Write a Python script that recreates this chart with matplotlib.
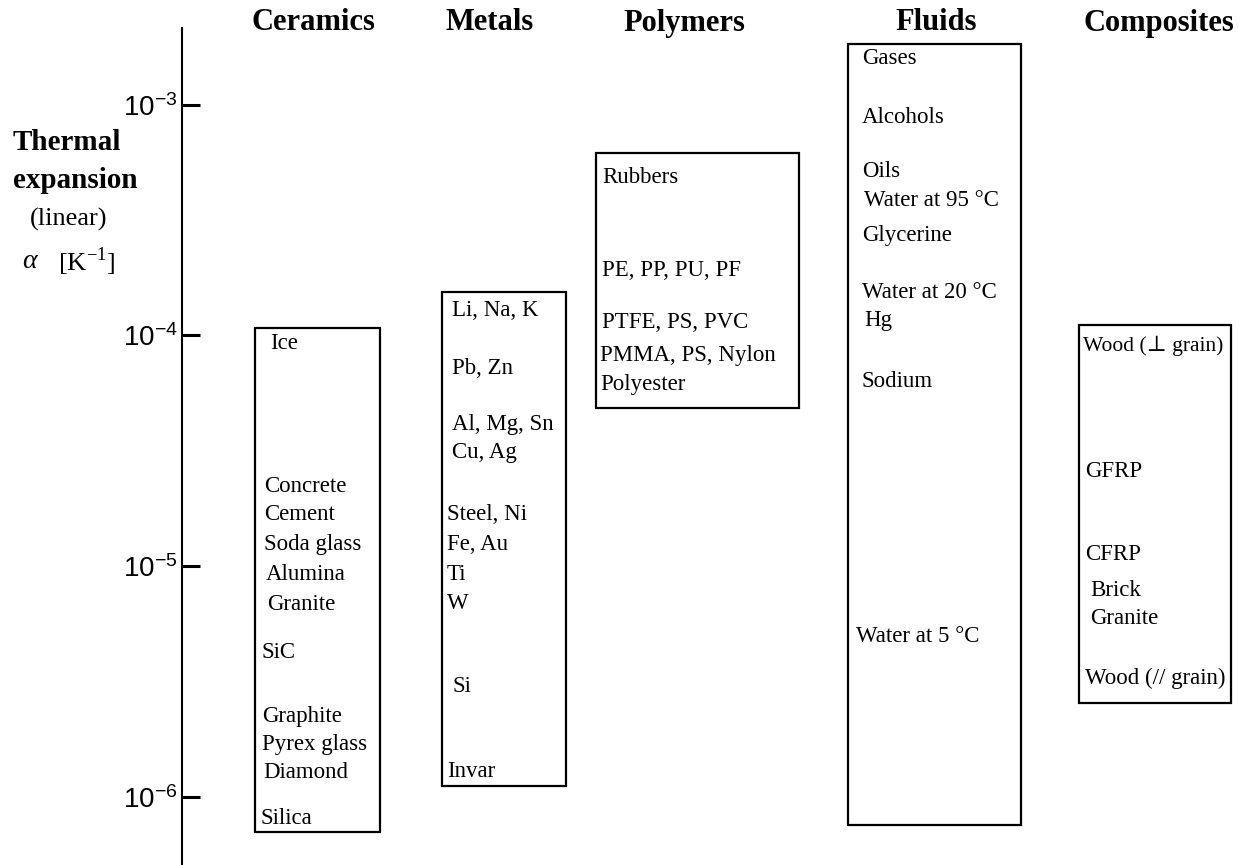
import matplotlib
matplotlib.use("Agg")
import matplotlib.pyplot as plt
from matplotlib.ticker import NullLocator

# materiaalgroepen en bereik van de lineaire uitzettingscoëfficiënt [1/K]
groepen = ["Ceramics", "Metals", "Polymers", "Fluids", "Composites"]
bereik_laag = [7.0e-7, 1.11e-6, 4.84e-5, 7.55e-7, 2.55e-6]
bereik_hoog = [1.08e-4, 1.54e-4, 6.18e-4, 1.83e-3, 1.11e-4]

ceramics_namen = ["Ice", "Concrete", "Cement", "Soda glass", "Alumina", "Granite",
                  "SiC", "Graphite", "Pyrex glass", "Diamond", "Silica"]
ceramics_alpha = [9.2e-5, 2.22e-5, 1.665e-5, 1.234e-5, 9.15e-6, 6.78e-6,
                  4.24e-6, 2.22e-6, 1.677e-6, 1.268e-6, 8.01e-7]

metals_namen = ["Li, Na, K", "Pb, Zn", "Al, Mg, Sn", "Cu, Ag", "Steel, Ni",
                "Fe, Au", "Ti", "W", "Si", "Invar"]
metals_alpha = [1.288e-4, 7.22e-5, 4.09e-5, 3.12e-5, 1.665e-5,
                1.234e-5, 9.15e-6, 6.85e-6, 3.02e-6, 1.281e-6]

polymers_namen = ["Rubbers", "PE, PP, PU, PF", "PTFE, PS, PVC",
                  "PMMA, PS, Nylon", "Polyester"]
polymers_alpha = [4.86e-4, 1.92e-4, 1.132e-4, 8.22e-5, 6.10e-5]

fluids_namen = ["Gases", "Alcohols", "Oils", "Water at 95 °C", "Glycerine",
                "Water at 20 °C", "Hg", "Sodium", "Water at 5 °C"]
fluids_alpha = [1.594e-3, 8.76e-4, 5.11e-4, 3.83e-4, 2.70e-4,
                1.542e-4, 1.166e-4, 6.34e-5, 4.93e-6]

composites_namen = ["Wood (⊥ grain)", "GFRP", "CFRP", "Brick", "Granite",
                    "Wood (// grain)"]
composites_alpha = [9.0e-5, 2.58e-5, 1.117e-5, 7.80e-6, 5.90e-6, 3.27e-6]

decaden = [1e-6, 1e-5, 1e-4, 1e-3]

# layout in pixels (x-as loopt in pixels)
W, H = 1249, 865
box_links = [255, 442, 596, 848, 1079]
box_rechts = [380, 566, 799, 1021, 1231]
kop_x = [313, 490, 684, 936, 1159]
tekst_x = [
    [270, 264, 264, 264, 266, 267, 262, 262, 262, 263, 261],
    [452, 452, 452, 452, 447, 447, 447, 447, 453, 447],
    [602, 602, 602, 600, 600],
    [862, 862, 862, 864, 862, 862, 864, 862, 856],
    [1083, 1085, 1085, 1090, 1090, 1085],
]
namen = [ceramics_namen, metals_namen, polymers_namen, fluids_namen, composites_namen]
alphas = [ceramics_alpha, metals_alpha, polymers_alpha, fluids_alpha, composites_alpha]

serif = ["Liberation Serif", "DejaVu Serif"]

fig = plt.figure(figsize=(W / 100, H / 100), dpi=100)
ax = fig.add_axes([0, 0, 1, 1])
ax.set_xlim(0, W)
ax.set_yscale("log")
ax.set_ylim(10 ** -6.296, 10 ** -2.546)

for s in ["top", "right", "bottom"]:
    ax.spines[s].set_visible(False)
ax.spines["left"].set_position(("data", 182))
ax.spines["left"].set_linewidth(1.5)
ax.spines["left"].set_bounds(10 ** -6.296, 2.15e-3)
ax.set_xticks([])
ax.set_yticks(decaden)
ax.yaxis.set_minor_locator(NullLocator())
ax.tick_params(axis="y", direction="in", length=13, width=2.2, pad=3,
               labelsize=20, labelfontfamily="Liberation Sans")

# boxen
breedte = [r - l for l, r in zip(box_links, box_rechts)]
hoogte = [h - l for l, h in zip(bereik_laag, bereik_hoog)]
ax.bar(box_links, hoogte, bottom=bereik_laag, width=breedte, align="edge",
       fill=False, edgecolor="black", linewidth=1.6)

for g, kx in zip(groepen, kop_x):
    fig.text(kx / W, 1 - 23 / H, g, ha="center", va="center", fontsize=22,
             fontweight="bold", family=serif)

for nm, al, xs in zip(namen, alphas, tekst_x):
    for n, a, x in zip(nm, al, xs):
        fs = 15.5 if "⊥" in n else 16.5
        ax.text(x, a, n, ha="left", va="center", fontsize=fs, family=serif)

# as-titel
fig.text(13 / W, 1 - 142 / H, "Thermal", ha="left", va="center", fontsize=21,
         fontweight="bold", family=serif)
fig.text(13 / W, 1 - 180 / H, "expansion", ha="left", va="center", fontsize=21,
         fontweight="bold", family=serif)
fig.text(30 / W, 1 - 219 / H, "(linear)", ha="left", va="center", fontsize=19,
         family=serif)
fig.text(22 / W, 1 - 262 / H, "α", ha="left", va="center", fontsize=20,
         style="italic", family=serif)
fig.text(58 / W, 1 - 262 / H, r"[K$^{\mathdefault{-1}}$]", ha="left", va="center",
         fontsize=19, family=serif)

fig.savefig("out.png", dpi=100)
